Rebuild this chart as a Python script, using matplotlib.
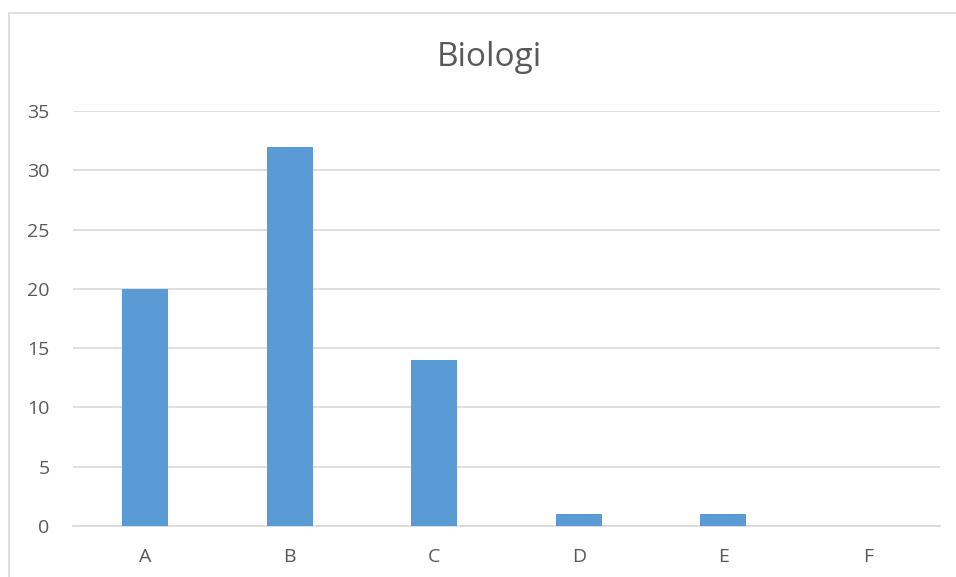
import matplotlib
matplotlib.use("Agg")
import matplotlib.pyplot as plt
from matplotlib.patches import Rectangle

categories = ["A", "B", "C", "D", "E", "F"]
values = [20, 32, 14, 1, 1, 0]
yticks = [0, 5, 10, 15, 20, 25, 30, 35]
title = "Biologi"

plt.rcParams['font.family'] = ['Open Sans', 'DejaVu Sans']
W, H = 956, 577
fig = plt.figure(figsize=(W / 100, H / 100), dpi=100)
fig.patch.set_facecolor("white")

# chart border (left and top visible)
fig.add_artist(Rectangle((8.5 / W, -0.1), 2.0, (H - 12.5) / H + 0.1,
                         transform=fig.transFigure, fill=False,
                         edgecolor="#D9D9D9", linewidth=1.2))

ax = fig.add_axes([73 / W, (H - 526) / H, (940 - 73) / W, (526 - 111) / H])
x = list(range(len(categories)))
ax.bar(x, values, width=0.32, color="#5B9BD5", zorder=3)
ax.set_xlim(-0.5, len(categories) - 0.5)
ax.set_ylim(0, 35)
ax.set_yticks(yticks)
ax.set_xticks(x)
ax.set_xticklabels(categories)
ax.grid(axis="y", color="#D9D9D9", linewidth=1.2, zorder=0)
for s in ["left", "right", "top"]:
    ax.spines[s].set_visible(False)
ax.spines["bottom"].set_color("#D9D9D9")
ax.spines["bottom"].set_linewidth(1.2)
ax.tick_params(axis="both", length=0, labelsize=14, colors="#595959")
ax.tick_params(axis="y", pad=17)
ax.tick_params(axis="x", pad=16)
fig.text(489 / W, 1 - 57 / H, title, ha="center", va="center",
         fontsize=24, color="#595959")

fig.savefig("out.png", dpi=100, facecolor="white")
